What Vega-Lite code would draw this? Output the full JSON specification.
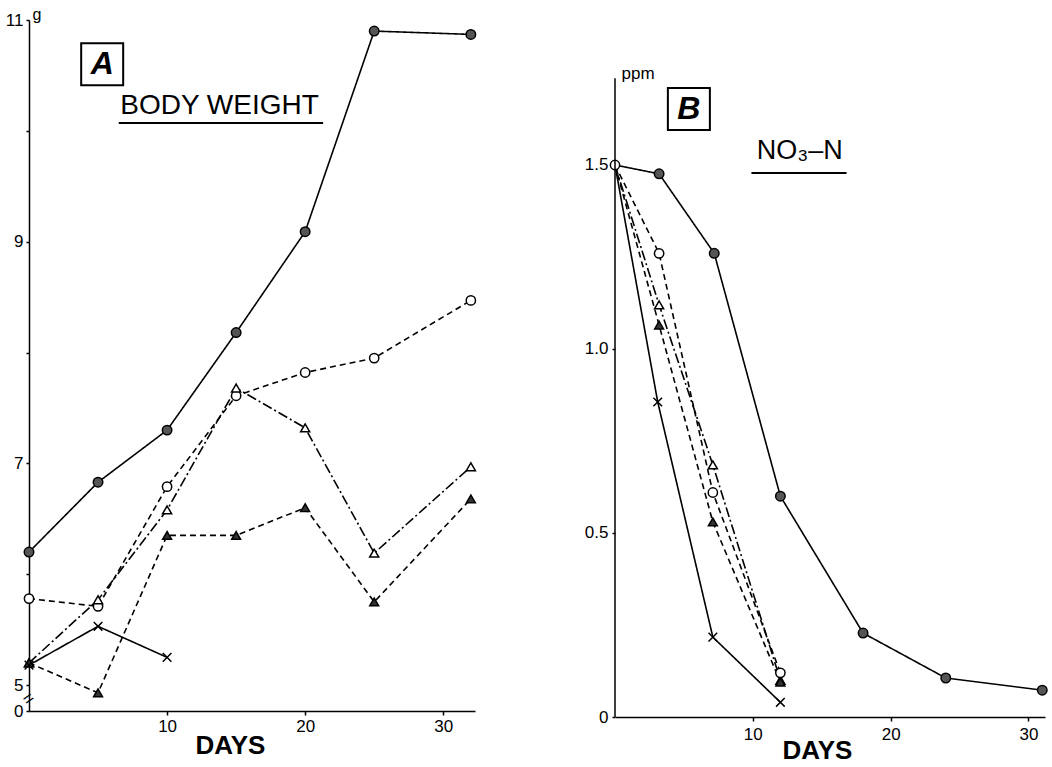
{
  "$schema": "https://vega.github.io/schema/vega-lite/v6.json",
  "background": "white",
  "padding": {"left": 5, "top": 6, "right": 5, "bottom": 5},
  "bounds": "flush",
  "spacing": 140,
  "config": {
    "view": {"stroke": null},
    "font": "Liberation Sans",
    "axis": {
      "domainColor": "black", "domainWidth": 1.5, "tickColor": "black", "tickWidth": 1.5,
      "labelColor": "black", "labelFont": "Liberation Sans", "labelFontSize": 17,
      "grid": false, "titleColor": "black", "titleFont": "Liberation Sans", "labelFlush": false
    }
  },
  "datasets": {
    "A": [
      {"series": "fc", "day": 0, "value": 6.2}, {"series": "fc", "day": 5, "value": 6.83}, {"series": "fc", "day": 10, "value": 7.3},
      {"series": "fc", "day": 15, "value": 8.18}, {"series": "fc", "day": 20, "value": 9.09}, {"series": "fc", "day": 25, "value": 10.9},
      {"series": "fc", "day": 32, "value": 10.87},
      {"series": "oc", "day": 0, "value": 5.78}, {"series": "oc", "day": 5, "value": 5.71}, {"series": "oc", "day": 10, "value": 6.79},
      {"series": "oc", "day": 15, "value": 7.61}, {"series": "oc", "day": 20, "value": 7.82}, {"series": "oc", "day": 25, "value": 7.95},
      {"series": "oc", "day": 32, "value": 8.47},
      {"series": "ot", "day": 0, "value": 5.2}, {"series": "ot", "day": 5, "value": 5.77}, {"series": "ot", "day": 10, "value": 6.58},
      {"series": "ot", "day": 15, "value": 7.68}, {"series": "ot", "day": 20, "value": 7.32}, {"series": "ot", "day": 25, "value": 6.19},
      {"series": "ot", "day": 32, "value": 6.97},
      {"series": "ft", "day": 0, "value": 5.2}, {"series": "ft", "day": 5, "value": 4.93}, {"series": "ft", "day": 10, "value": 6.35},
      {"series": "ft", "day": 15, "value": 6.35}, {"series": "ft", "day": 20, "value": 6.6}, {"series": "ft", "day": 25, "value": 5.75},
      {"series": "ft", "day": 32, "value": 6.68},
      {"series": "x", "day": 0, "value": 5.18}, {"series": "x", "day": 5, "value": 5.53}, {"series": "x", "day": 10, "value": 5.25}
    ],
    "B": [
      {"series": "fc", "day": 0, "value": 1.5}, {"series": "fc", "day": 3.2, "value": 1.476}, {"series": "fc", "day": 7.2, "value": 1.26},
      {"series": "fc", "day": 12, "value": 0.6}, {"series": "fc", "day": 18, "value": 0.228}, {"series": "fc", "day": 24, "value": 0.106},
      {"series": "fc", "day": 31, "value": 0.073},
      {"series": "ot", "day": 0, "value": 1.5}, {"series": "ot", "day": 3.2, "value": 1.12}, {"series": "ot", "day": 7.1, "value": 0.685},
      {"series": "ot", "day": 12, "value": 0.1},
      {"series": "ft", "day": 0, "value": 1.5}, {"series": "ft", "day": 3.2, "value": 1.065}, {"series": "ft", "day": 7.1, "value": 0.53},
      {"series": "ft", "day": 12, "value": 0.095},
      {"series": "x", "day": 0, "value": 1.5}, {"series": "x", "day": 3.1, "value": 0.856}, {"series": "x", "day": 7.1, "value": 0.217},
      {"series": "x", "day": 12, "value": 0.04},
      {"series": "oc", "day": 0, "value": 1.5}, {"series": "oc", "day": 3.2, "value": 1.26}, {"series": "oc", "day": 7.1, "value": 0.61},
      {"series": "oc", "day": 12, "value": 0.12}
    ]
  },
  "hconcat": [
    {
      "width": 446,
      "height": 691,
      "layer": [
        {
          "data": {"name": "A"},
          "mark": {"type": "line", "color": "black", "strokeWidth": 1.6},
          "encoding": {
            "x": {"field": "day", "type": "quantitative", "scale": {"domain": [0, 32.3], "nice": false, "zero": false},
              "axis": {"values": [10, 20, 30], "title": "DAYS", "titleFontSize": 26, "titleFontWeight": "bold",
                "titleX": 201, "titleY": 34, "titleAlign": "center", "titleBaseline": "middle", "tickSize": 4, "labelPadding": 3}},
            "y": {"field": "value", "type": "quantitative", "scale": {"domain": [4.766, 11], "nice": false, "zero": false},
              "axis": {"values": [4.766, 5, 6, 7, 8, 9, 10, 11],
                "labelExpr": "datum.value < 4.9 ? '0' : ((datum.value == 6 || datum.value == 8 || datum.value == 10) ? '' : format(datum.value, 'd'))",
                "title": "g", "titleAngle": 0, "titleX": 3, "titleY": -6, "titleAlign": "left", "titleBaseline": "middle",
                "titleFontSize": 16, "titleFontWeight": "normal", "tickSize": 3, "labelPadding": 3}},
            "strokeDash": {"field": "series", "type": "nominal",
              "scale": {"domain": ["fc", "oc", "ot", "ft", "x"], "range": [[1, 0], [6, 4], [10, 3, 2, 3], [6, 4], [1, 0]]}, "legend": null}
          }
        },
        {
          "data": {"name": "A"},
          "mark": {"type": "point", "filled": true, "stroke": "black", "strokeWidth": 1.5, "opacity": 1},
          "encoding": {
            "x": {"field": "day", "type": "quantitative"},
            "y": {"field": "value", "type": "quantitative"},
            "shape": {"field": "series", "type": "nominal",
              "scale": {"domain": ["fc", "oc", "ot", "ft", "x"], "range": ["circle", "circle", "triangle-up", "triangle-up", "M-1,-1L1,1M-1,1L1,-1"]}, "legend": null},
            "fill": {"field": "series", "type": "nominal",
              "scale": {"domain": ["fc", "oc", "ot", "ft", "x"], "range": ["#555555", "white", "white", "#333333", "white"]}, "legend": null},
            "size": {"field": "series", "type": "ordinal",
              "scale": {"domain": ["fc", "oc", "ot", "ft", "x"], "range": [90, 75, 150, 150, 260]}, "legend": null}
          }
        },
        {
          "data": {"values": [{}]},
          "mark": {"type": "text", "text": "=", "fontSize": 18, "angle": -35, "color": "black"},
          "encoding": {"x": {"datum": 0}, "y": {"datum": 4.87}}
        },
        {
          "data": {"values": [{}]},
          "mark": {"type": "point", "shape": "square", "size": 1764, "stroke": "black", "strokeWidth": 2, "filled": false, "opacity": 1},
          "encoding": {"x": {"datum": 5.3}, "y": {"datum": 10.6}}
        },
        {
          "data": {"values": [{}]},
          "mark": {"type": "text", "text": "A", "fontSize": 32, "fontStyle": "italic", "fontWeight": "bold", "color": "black"},
          "encoding": {"x": {"datum": 5.3}, "y": {"datum": 10.6}}
        },
        {
          "data": {"values": [{}]},
          "mark": {"type": "text", "text": "BODY WEIGHT", "fontSize": 28, "color": "black"},
          "encoding": {"x": {"datum": 13.8}, "y": {"datum": 10.22}}
        },
        {
          "data": {"values": [{}]},
          "mark": {"type": "rule", "color": "black", "strokeWidth": 2},
          "encoding": {"x": {"datum": 6.5}, "x2": {"datum": 21.3}, "y": {"datum": 10.07}}
        }
      ]
    },
    {
      "width": 430,
      "height": 697,
      "layer": [
        {
          "data": {"name": "B"},
          "mark": {"type": "line", "color": "black", "strokeWidth": 1.6},
          "encoding": {
            "x": {"field": "day", "type": "quantitative", "scale": {"domain": [0, 31.2], "nice": false, "zero": false},
              "axis": {"values": [10, 20, 30], "title": "DAYS", "titleFontSize": 26, "titleFontWeight": "bold",
                "titleX": 202, "titleY": 33, "titleAlign": "center", "titleBaseline": "middle", "tickSize": 4, "labelPadding": 5}},
            "y": {"field": "value", "type": "quantitative", "scale": {"domain": [0, 1.894], "nice": false, "zero": false},
              "axis": {"values": [0, 0.5, 1, 1.5], "domain": false,
                "labelExpr": "datum.value == 0 ? '0' : format(datum.value, '.1f')",
                "title": "ppm", "titleAngle": 0, "titleX": 6, "titleY": 53, "titleAlign": "left", "titleBaseline": "middle",
                "titleFontSize": 17, "titleFontWeight": "normal", "tickSize": 3, "labelPadding": 4}},
            "strokeDash": {"field": "series", "type": "nominal", "legend": null}
          }
        },
        {
          "data": {"name": "B"},
          "transform": [{"filter": "datum.day > 0 || datum.series == 'oc'"}],
          "mark": {"type": "point", "filled": true, "stroke": "black", "strokeWidth": 1.5, "opacity": 1},
          "encoding": {
            "x": {"field": "day", "type": "quantitative"},
            "y": {"field": "value", "type": "quantitative"},
            "shape": {"field": "series", "type": "nominal", "legend": null},
            "fill": {"field": "series", "type": "nominal", "legend": null},
            "size": {"field": "series", "type": "ordinal", "legend": null}
          }
        },
        {
          "data": {"values": [{}]},
          "mark": {"type": "rule", "color": "black", "strokeWidth": 1.5},
          "encoding": {"x": {"datum": 0}, "y": {"datum": 0}, "y2": {"datum": 1.736}}
        },
        {
          "data": {"values": [{}]},
          "mark": {"type": "point", "shape": "square", "size": 1764, "stroke": "black", "strokeWidth": 2, "filled": false, "opacity": 1},
          "encoding": {"x": {"datum": 5.36}, "y": {"datum": 1.652}}
        },
        {
          "data": {"values": [{}]},
          "mark": {"type": "text", "text": "B", "fontSize": 32, "fontStyle": "italic", "fontWeight": "bold", "color": "black"},
          "encoding": {"x": {"datum": 5.36}, "y": {"datum": 1.652}}
        },
        {
          "data": {"values": [{}]},
          "mark": {"type": "text", "text": "NO₃–N", "fontSize": 27, "color": "black"},
          "encoding": {"x": {"datum": 13.4}, "y": {"datum": 1.538}}
        },
        {
          "data": {"values": [{}]},
          "mark": {"type": "rule", "color": "black", "strokeWidth": 2},
          "encoding": {"x": {"datum": 9.9}, "x2": {"datum": 16.8}, "y": {"datum": 1.478}}
        }
      ]
    }
  ]
}
